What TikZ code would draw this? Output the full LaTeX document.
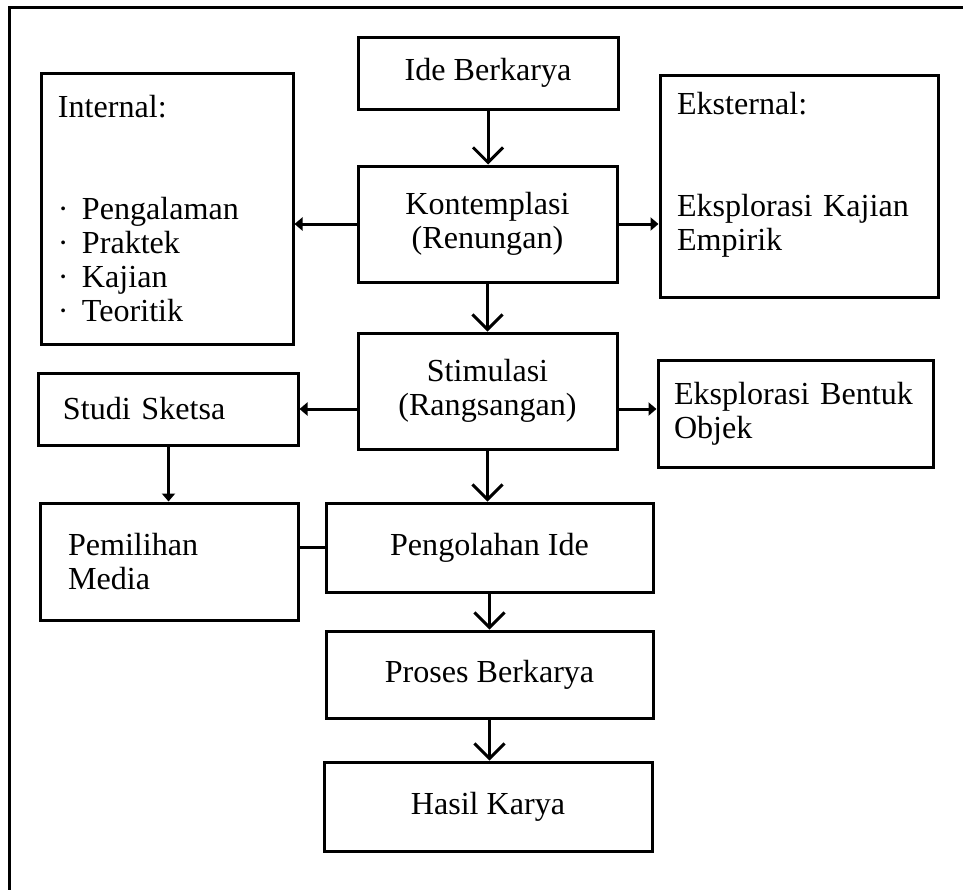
\documentclass[tikz,border=0pt]{standalone}
\usepackage{fontspec}
\setmainfont{Liberation Serif}
\usetikzlibrary{arrows.meta}

\begin{document}
\begin{tikzpicture}[
  x=0.3mm, y=-0.3mm,
  font=\fontsize{27.4pt}{29pt}\selectfont,
  blk/.style={draw, line width=0.9mm, align=center, inner sep=0pt},
  lblk/.style={blk, align=left},
  arr/.style={-{Straight Barb[length=4.5mm, width=9mm]}, line width=0.9mm},
  tarr/.style={-{Triangle[length=2.4mm, width=3.9mm]}, line width=0.9mm},
]
\useasboundingbox (0,0) rectangle (963,890);
\draw[line width=0.9mm] (963,7) -- (9,7) -- (9,890);
% main column
\node[blk, minimum width=78mm, minimum height=21.6mm] (ide) at (488,73) {Ide Berkarya};
\node[blk, minimum width=77.7mm, minimum height=34.8mm] (kont) at (487.5,224) {Kontemplasi\\(Renungan)};
\node[blk, minimum width=77.7mm, minimum height=34.8mm] (stim) at (487.5,391) {Stimulasi\\(Rangsangan)};
\node[blk, minimum width=98.1mm, minimum height=26.7mm] (olah) at (489.5,547.5) {Pengolahan Ide};
\node[blk, minimum width=98.1mm, minimum height=26.1mm] (pros) at (489.5,674.5) {Proses Berkarya};
\node[blk, minimum width=98.4mm, minimum height=26.7mm] (hasil) at (488,806.5) {Hasil Karya};
% side boxes
\node[lblk, minimum width=75.3mm, minimum height=81.3mm, text width=65.7mm] (intl) at (167.5,208.5)
  {Internal:\\[20.4mm]\makebox[7.2mm][l]{·}Pengalaman\\\makebox[7.2mm][l]{·}Praktek\\\makebox[7.2mm][l]{·}Kajian\\\makebox[7.2mm][l]{·}Teoritik};
\node[lblk, minimum width=83.4mm, minimum height=66.6mm, text width=73.2mm] (ekst) at (799,186)
  {Eksternal:\\[20.4mm]Eksplorasi Kajian\\Empirik\rule[-9mm]{0pt}{9mm}};
\node[lblk, minimum width=77.7mm, minimum height=21.6mm, text width=63.3mm] (sket) at (168.5,409) {Studi Sketsa};
\node[lblk, minimum width=82.5mm, minimum height=32.1mm, text width=72.9mm] (bent) at (795.5,413.5) {Eksplorasi Bentuk\\Objek};
\node[lblk, minimum width=77.1mm, minimum height=35.1mm, text width=60.9mm] (media) at (169.5,561.5) {Pemilihan\\Media};
% connectors
\draw[arr] (ide.south) -- (ide.south |- kont.north);
\draw[arr] (kont.south) -- (kont.south |- stim.north);
\draw[arr] (stim.south) -- (stim.south |- olah.north);
\draw[arr] (olah.south) -- (olah.south |- pros.north);
\draw[arr] (pros.south) -- (pros.south |- hasil.north);
\draw[tarr] (kont.west) -- (kont.west -| intl.east);
\draw[tarr] (kont.east) -- (kont.east -| ekst.west);
\draw[tarr] (stim.west |- sket.east) -- (sket.east);
\draw[tarr] (stim.east |- sket.east) -- (bent.west |- sket.east);
\draw[tarr] (sket.south) -- (sket.south |- media.north);
\draw[line width=0.9mm] (media.east |- olah.west) -- (olah.west);
\end{tikzpicture}
\end{document}
